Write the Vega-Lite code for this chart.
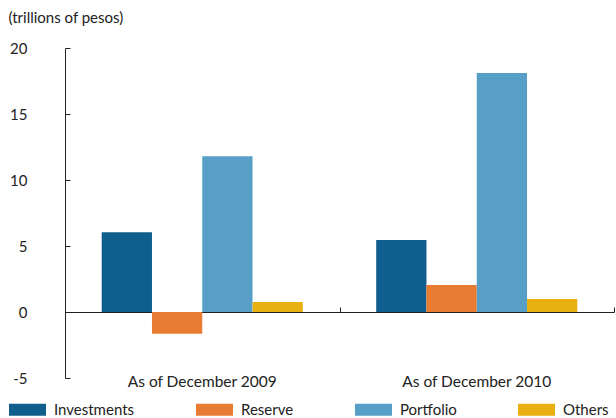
{
  "$schema": "https://vega.github.io/schema/vega-lite/v6.json",
  "width": 549,
  "height": 330,
  "autosize": {"type": "none"},
  "padding": {"left": 65, "top": 48, "right": 2, "bottom": 40},
  "background": "white",
  "config": {
    "view": {"stroke": null},
    "font": "Lato",
    "axis": {"labelFont": "Lato", "titleFont": "Lato", "labelColor": "#222", "titleColor": "#222", "grid": false, "domainColor": "#222", "tickColor": "#222"},
    "legend": {"labelFont": "Lato", "labelColor": "#222"}
  },
  "data": {
    "values": [
      {"period": "As of December 2009", "series": "Investments", "value": 6.05},
      {"period": "As of December 2009", "series": "Reserve", "value": -1.65},
      {"period": "As of December 2009", "series": "Portfolio", "value": 11.8},
      {"period": "As of December 2009", "series": "Others", "value": 0.76},
      {"period": "As of December 2010", "series": "Investments", "value": 5.45},
      {"period": "As of December 2010", "series": "Reserve", "value": 2.05},
      {"period": "As of December 2010", "series": "Portfolio", "value": 18.1},
      {"period": "As of December 2010", "series": "Others", "value": 0.98}
    ]
  },
  "layer": [
    {
      "mark": {"type": "bar", "strokeWidth": 0},
      "encoding": {
        "x": {
          "field": "period", "type": "nominal",
          "scale": {"paddingInner": 0, "paddingOuter": 0},
          "axis": {"orient": "bottom", "title": null, "domain": false, "ticks": false, "labelAngle": 0, "labelFontSize": 15.5, "labelPadding": -4}
        },
        "xOffset": {
          "field": "series", "type": "nominal",
          "sort": ["Investments", "Reserve", "Portfolio", "Others"],
          "scale": {"paddingInner": 0, "paddingOuter": 0.73}
        },
        "y": {
          "field": "value", "type": "quantitative",
          "scale": {"domain": [-5, 20], "nice": false, "zero": false},
          "axis": {
            "values": [-5, 0, 5, 10, 15, 20],
            "labelExpr": "'' + datum.value",
            "tickSize": -5,
            "labelPadding": 43,
            "labelFontSize": 15,
            "title": "(trillions of pesos)",
            "titleAngle": 0,
            "titleAlign": "left",
            "titleBaseline": "alphabetic",
            "titleX": -57,
            "titleY": -26,
            "titleFontSize": 15,
            "titleFontWeight": "normal"
          }
        },
        "color": {
          "field": "series", "type": "nominal",
          "sort": ["Investments", "Reserve", "Portfolio", "Others"],
          "scale": {"domain": ["Investments", "Reserve", "Portfolio", "Others"], "range": ["#0F5E8D", "#E97C33", "#579FC7", "#E9B012"]},
          "legend": {
            "title": null,
            "orient": "none",
            "legendX": -56,
            "legendY": 343,
            "direction": "horizontal",
            "columns": 4,
            "columnPadding": 61,
            "padding": 0,
            "symbolType": "M-1,-0.32H1V0.32H-1Z",
            "symbolSize": 1369,
            "symbolStrokeWidth": 0,
            "symbolOpacity": 1,
            "labelFontSize": 15,
            "labelOffset": 8
          }
        }
      }
    },
    {
      "mark": {"type": "tick", "opacity": 0},
      "encoding": {
        "x": {
          "field": "period", "type": "nominal",
          "axis": {"orient": "top", "title": null, "labels": false, "offset": -264, "tickBand": "extent", "tickSize": 5, "domainColor": "#222"}
        }
      }
    }
  ],
  "resolve": {"axis": {"x": "independent"}}
}
